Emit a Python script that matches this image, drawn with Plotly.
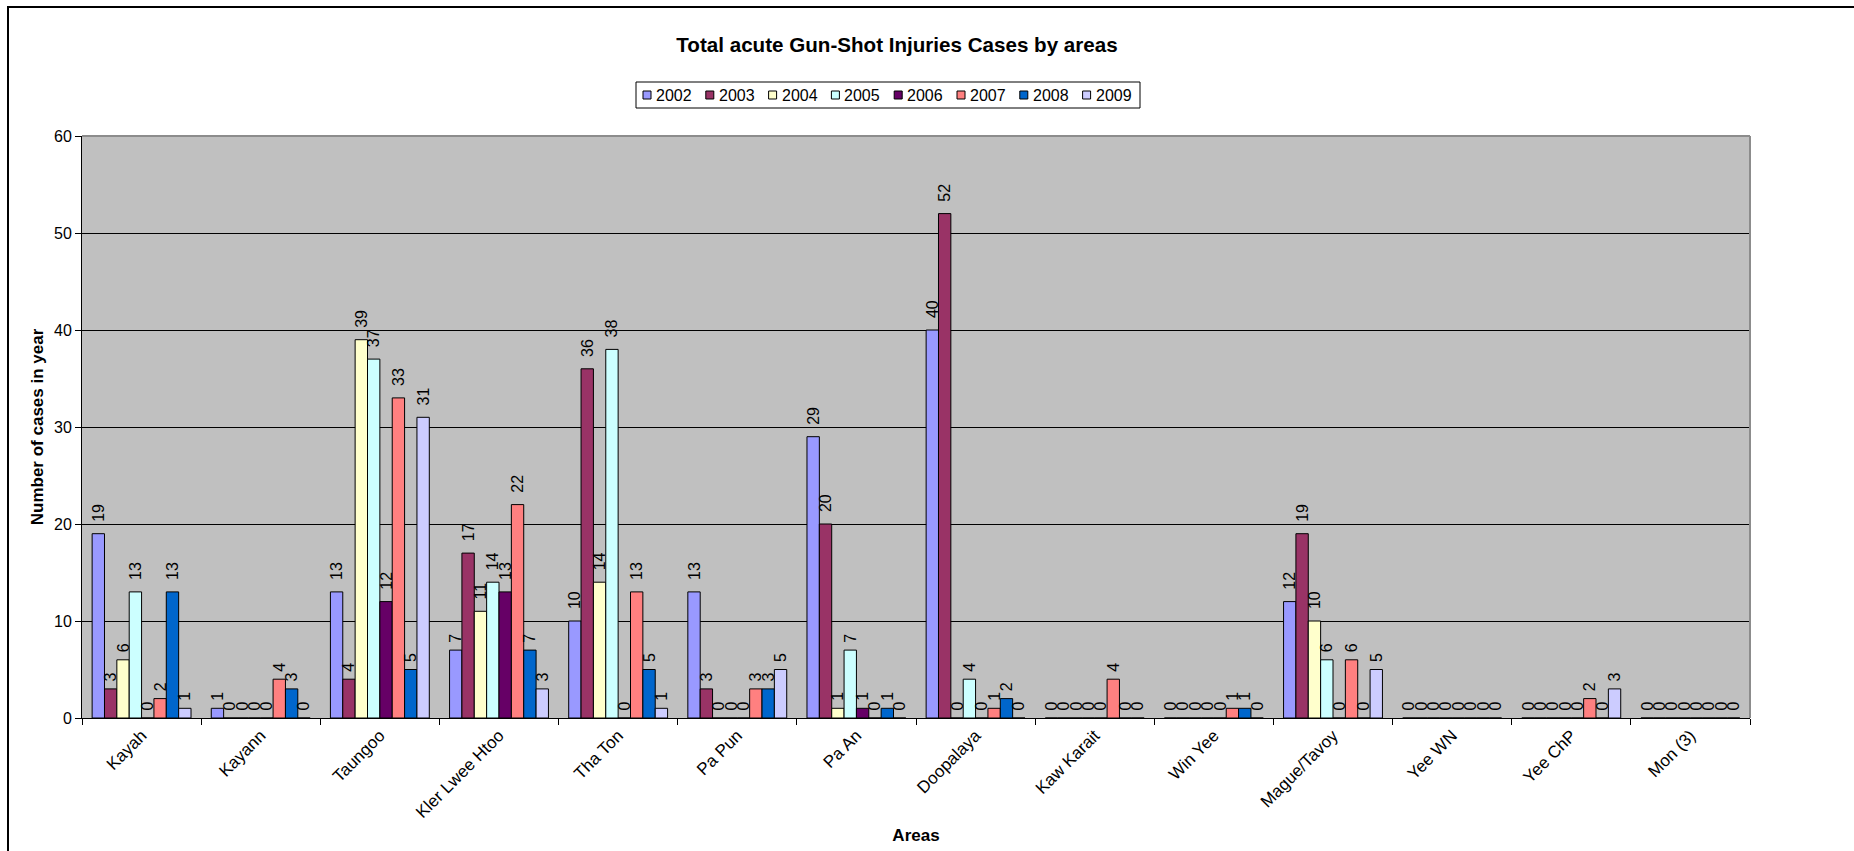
import plotly.graph_objects as go

areas = ["Kayah", "Kayann", "Taungoo", "Kler Lwee Htoo", "Tha Ton", "Pa Pun", "Pa An",
         "Doopalaya", "Kaw Karait", "Win Yee", "Mague/Tavoy", "Yee WN", "Yee ChP", "Mon (3)"]

years = ["2002", "2003", "2004", "2005", "2006", "2007", "2008", "2009"]

cases_2002 = [19, 1, 13, 7, 10, 13, 29, 40, 0, 0, 12, 0, 0, 0]
cases_2003 = [3, 0, 4, 17, 36, 3, 20, 52, 0, 0, 19, 0, 0, 0]
cases_2004 = [6, 0, 39, 11, 14, 0, 1, 0, 0, 0, 10, 0, 0, 0]
cases_2005 = [13, 0, 37, 14, 38, 0, 7, 4, 0, 0, 6, 0, 0, 0]
cases_2006 = [0, 0, 12, 13, 0, 0, 1, 0, 0, 0, 0, 0, 0, 0]
cases_2007 = [2, 4, 33, 22, 13, 3, 0, 1, 4, 1, 6, 0, 2, 0]
cases_2008 = [13, 3, 5, 7, 5, 3, 1, 2, 0, 1, 0, 0, 0, 0]
cases_2009 = [1, 0, 31, 3, 1, 5, 0, 0, 0, 0, 5, 0, 3, 0]

series = [cases_2002, cases_2003, cases_2004, cases_2005,
          cases_2006, cases_2007, cases_2008, cases_2009]

colors = ["#9999FF", "#993366", "#FFFFCC", "#CCFFFF",
          "#660066", "#FF8080", "#0066CC", "#CCCCFF"]

FONT = "Liberation Sans, Arial, sans-serif"
NBSP = "\u00a0"

# Page geometry (pixels) for the plotting rectangle
W, H = 1854, 851
L, R, T, B = 82, 104, 136, 133
PW, PH = W - L - R, H - T - B


def px(x):
    return (x - L) / PW


def py(y):
    return (H - B - y) / PH


def value_label(v):
    # a little breathing room between the bar top and its rotated value label
    pad = NBSP * (2 if v >= 10 else 1)
    return pad + str(v)


fig = go.Figure()
for name, vals, col in zip(years, series, colors):
    fig.add_trace(go.Bar(
        x=areas, y=vals, name=name,
        marker=dict(color=col, line=dict(color="#000000", width=1)),
        text=[value_label(v) for v in vals], texttemplate="%{text}",
        textposition="outside",
        textangle=-90, constraintext="none", cliponaxis=False,
        textfont=dict(family=FONT, size=16, color="#000000"),
        showlegend=False,
    ))

shapes = []
annotations = []

# Outer chart frame (left and top edges visible)
shapes.append(dict(type="rect", xref="paper", yref="paper",
                   x0=px(8), x1=px(1950), y0=py(950), y1=py(7),
                   line=dict(color="#000000", width=2), fillcolor="rgba(0,0,0,0)",
                   layer="above"))

# Grey top and right edges of the plot area
shapes.append(dict(type="line", xref="paper", yref="paper", x0=0, x1=1, y0=1, y1=1,
                   line=dict(color="#8C8C8C", width=2), layer="above"))
shapes.append(dict(type="line", xref="paper", yref="paper", x0=1, x1=1, y0=0, y1=1,
                   line=dict(color="#8C8C8C", width=2), layer="above"))

# Legend box with keys
lg_x0, lg_x1, lg_y0, lg_y1 = 636, 1140, 82, 108
shapes.append(dict(type="rect", xref="paper", yref="paper",
                   x0=px(lg_x0), x1=px(lg_x1), y0=py(lg_y1), y1=py(lg_y0),
                   line=dict(color="#000000", width=1), fillcolor="#FFFFFF",
                   layer="above"))
pitch = 62.8
cy = (lg_y0 + lg_y1) / 2
for i, (name, col) in enumerate(zip(years, colors)):
    sx = 643 + i * pitch
    shapes.append(dict(type="rect", xref="paper", yref="paper",
                       x0=px(sx), x1=px(sx + 8), y0=py(cy + 4), y1=py(cy - 4),
                       line=dict(color="#000000", width=1), fillcolor=col,
                       layer="above"))
    annotations.append(dict(xref="paper", yref="paper", x=px(sx + 11), y=py(cy),
                            text=name, showarrow=False, xanchor="left", yanchor="middle",
                            font=dict(family=FONT, size=16, color="#000000")))

fig.update_layout(
    width=W, height=H,
    margin=dict(l=L, r=R, t=T, b=B, autoexpand=False),
    paper_bgcolor="#FFFFFF",
    plot_bgcolor="#C0C0C0",
    barmode="group",
    bargap=0.17,
    bargroupgap=0,
    title=dict(text="<b>Total acute Gun-Shot Injuries Cases by areas</b>",
               x=px(889), xanchor="center", y=1 - 45 / H, yanchor="middle",
               font=dict(family=FONT, size=20.6, color="#000000")),
    font=dict(family=FONT, size=16, color="#000000"),
    xaxis=dict(
        title=dict(text="<b>Areas</b>", font=dict(family=FONT, size=17), standoff=8),
        tickangle=-45, tickfont=dict(family=FONT, size=17),
        ticks="outside", tickson="boundaries", ticklen=6, tickcolor="#000000",
        showline=True, linecolor="#000000", linewidth=1,
        showgrid=False, automargin=False,
    ),
    yaxis=dict(
        title=dict(text="<b>Number of cases in year</b>", font=dict(family=FONT, size=17),
                   standoff=6),
        range=[0, 60], dtick=10, tickfont=dict(family=FONT, size=16),
        ticks="outside", ticklen=6, tickcolor="#000000",
        showline=True, linecolor="#000000", linewidth=1,
        showgrid=True, gridcolor="#000000", gridwidth=1,
        zeroline=False, automargin=False,
    ),
    shapes=shapes,
    annotations=annotations,
)

fig.write_html("out.html")
